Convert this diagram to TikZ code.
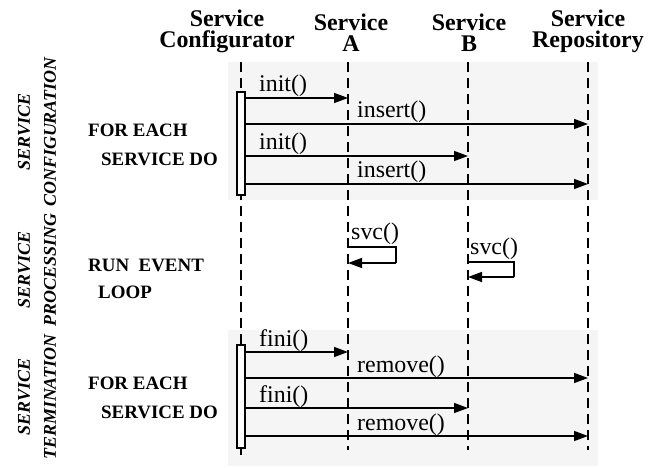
\documentclass[tikz,border=0pt]{standalone}
\usepackage{fontspec}
\setmainfont{Liberation Serif}
\usetikzlibrary{arrows.meta,positioning}
\tikzset{>/.tip={Triangle[length=14bp,width=10bp]}}
\tikzset{lifeline/.style={line width=1.3bp,dash pattern=on 10bp off 6bp}}
\tikzset{msg/.style={->,line width=1.5bp}}
\tikzset{head/.style={font=\fontsize{24}{22}\selectfont\bfseries,align=center,inner sep=0pt,anchor=base}}
\tikzset{call/.style={font=\fontsize{24}{24}\selectfont,inner sep=0pt,anchor=base west}}
\tikzset{phase/.style={font=\fontsize{18}{26}\selectfont\bfseries\itshape,rotate=90,align=center,inner sep=0pt}}
\tikzset{loopnote/.style={font=\fontsize{19}{19}\selectfont\bfseries,inner sep=0pt,anchor=base west}}
\tikzset{activation/.style={draw,fill=white,line width=1.2bp}}

\begin{document}
\begin{tikzpicture}[x=1bp,y=-1bp]
      \useasboundingbox (0,0) rectangle (652,468);
      % shaded phases
      \fill[black!4] (228,62) rectangle (598,200);
      \fill[black!4] (228,330) rectangle (598,466);

      % participants
      \node[head](conf) at (227,48){Service\\Configurator};
      \node[head](srvA) at (351,52){Service\\A};
      \node[head](srvB) at (469,52){Service\\B};
      \node[head](repo) at (588,48){Service\\Repository};

      % lifelines
      \coordinate (conf-top) at (241,62);
      \coordinate (conf-end) at (241,455);
      \coordinate (srvA-top) at (348,62);
      \coordinate (srvA-end) at (348,450);
      \coordinate (srvB-top) at (468,62);
      \coordinate (srvB-end) at (468,450);
      \coordinate (repo-top) at (588,62);
      \coordinate (repo-end) at (588,450);
      \draw[lifeline] (conf-top) -- (conf-end);
      \draw[lifeline] (srvA-top) -- (srvA-end);
      \draw[lifeline] (srvB-top) -- (srvB-end);
      \draw[lifeline] (repo-top) -- (repo-end);

      \node[activation,minimum width=8bp,minimum height=103bp,inner sep=0pt](act1) at (241,143.5){};
      \node[activation,minimum width=8bp,minimum height=103bp,inner sep=0pt](act2) at (241,396.5){};

      % phase names
      \node[phase](cfg) at (37,132){SERVICE\\CONFIGURATION};
      \node[phase](proc) at (37,270){SERVICE\\PROCESSING};
      \node[phase](term) at (37,397){SERVICE\\TERMINATION};

      \node[loopnote](each1) at (88,137){FOR EACH};
      \node[loopnote](do1) at (101,166){SERVICE DO};
      \node[loopnote](run) at (88,272){RUN\ \ EVENT};
      \node[loopnote](lp) at (98,299){LOOP};
      \node[loopnote](each2) at (88,389){FOR EACH};
      \node[loopnote](do2) at (101,418){SERVICE DO};

      % configuration
      \coordinate (i1) at (245,98);   \coordinate (i1e) at (348,98);
      \coordinate (s1) at (245,124);  \coordinate (s1e) at (588,124);
      \coordinate (i2) at (245,156);  \coordinate (i2e) at (468,156);
      \coordinate (s2) at (245,184);  \coordinate (s2e) at (588,184);
      \draw[msg] (i1) -- (i1e);
      \draw[msg] (s1) -- (s1e);
      \draw[msg] (i2) -- (i2e);
      \draw[msg] (s2) -- (s2e);
      \node[call](init1) at (259,92){init()};
      \node[call](ins1) at (357,118){insert()};
      \node[call](init2) at (259,150){init()};
      \node[call](ins2) at (357,178){insert()};

      % processing
      \coordinate (svA1) at (348,247); \coordinate (svA2) at (396,247);
      \coordinate (svA3) at (396,263); \coordinate (svA4) at (348,263);
      \draw[line width=1.5bp] (svA1) -- (svA2) -- (svA3);
      \draw[msg] (svA3) -- (svA4);
      \node[call](svcA) at (351,240){svc()};
      \coordinate (svB1) at (468,262); \coordinate (svB2) at (514,262);
      \coordinate (svB3) at (514,277); \coordinate (svB4) at (468,277);
      \draw[line width=1.5bp] (svB1) -- (svB2) -- (svB3);
      \draw[msg] (svB3) -- (svB4);
      \node[call](svcB) at (470,255){svc()};

      % termination
      \coordinate (f1) at (245,352);  \coordinate (f1e) at (348,352);
      \coordinate (r1) at (245,378);  \coordinate (r1e) at (588,378);
      \coordinate (f2) at (245,408);  \coordinate (f2e) at (468,408);
      \coordinate (r2) at (245,436);  \coordinate (r2e) at (588,436);
      \draw[msg] (f1) -- (f1e);
      \draw[msg] (r1) -- (r1e);
      \draw[msg] (f2) -- (f2e);
      \draw[msg] (r2) -- (r2e);
      \node[call](fini1) at (259,346){fini()};
      \node[call](rem1) at (357,372){remove()};
      \node[call](fini2) at (259,402){fini()};
      \node[call](rem2) at (357,430){remove()};
    \end{tikzpicture}
\end{document}
